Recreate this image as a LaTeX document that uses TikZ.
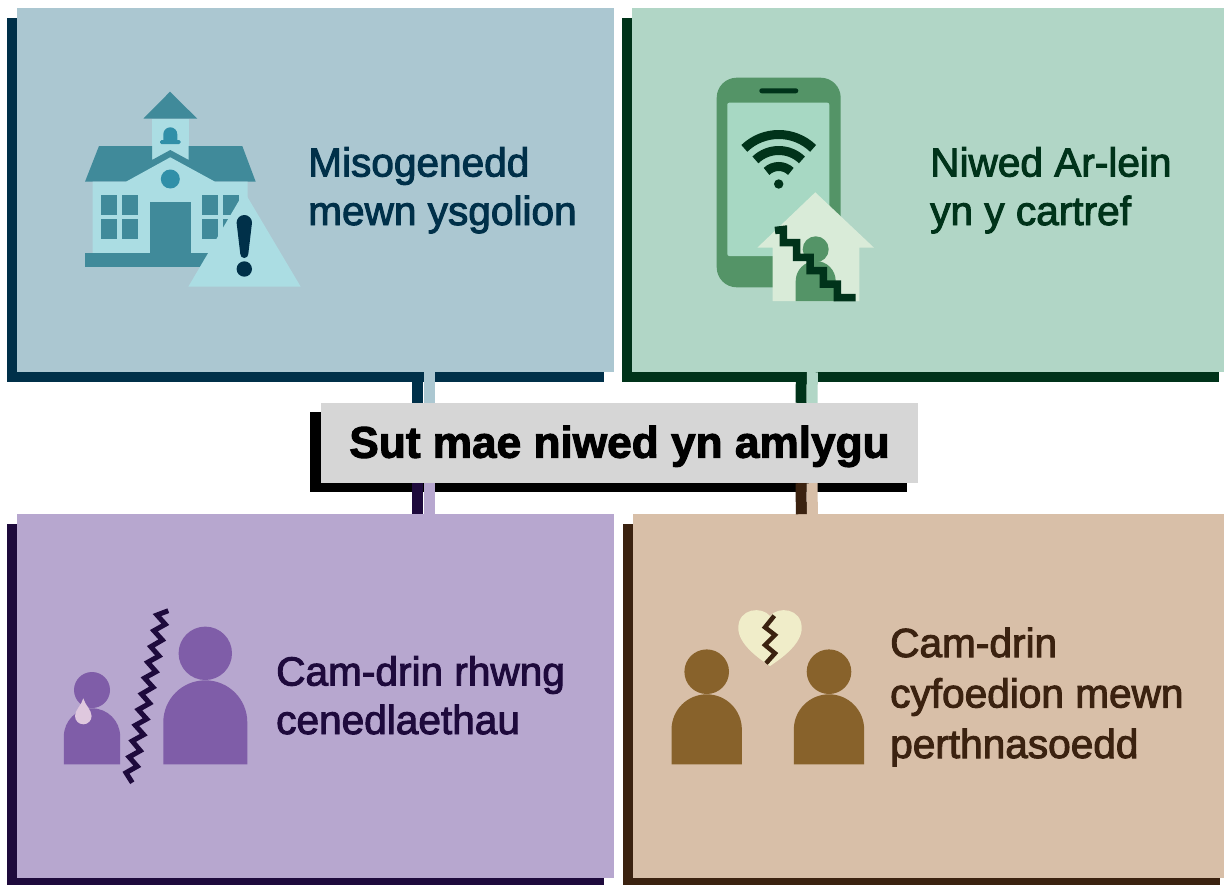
\documentclass[tikz,border=0pt]{standalone}
\usepackage{fontspec}
\setmainfont{Liberation Sans}[BoldFeatures={FakeBold=2.4}]
\newfontfamily\labelfont{Liberation Sans}[FakeBold=2.4]
\usetikzlibrary{positioning, shadows}

\definecolor{schoolbg}{HTML}{ABC7D1}
\definecolor{schooldark}{HTML}{003049}
\definecolor{schoolmid}{HTML}{408A9A}
\definecolor{schoolbell}{HTML}{308FA8}
\definecolor{schoollight}{HTML}{ABDDE3}
\definecolor{onlinebg}{HTML}{B1D6C6}
\definecolor{onlinedark}{HTML}{00331A}
\definecolor{onlinemid}{HTML}{549467}
\definecolor{onlinelight}{HTML}{A7D8C3}
\definecolor{onlinehouse}{HTML}{D9EBD8}
\definecolor{familybg}{HTML}{B7A7CF}
\definecolor{familydark}{HTML}{1E0A3C}
\definecolor{familymid}{HTML}{7F5DA8}
\definecolor{familytear}{HTML}{DFC8DE}
\definecolor{peerbg}{HTML}{D8BFA8}
\definecolor{peerdark}{HTML}{3B2210}
\definecolor{peermid}{HTML}{88622B}
\definecolor{peerheart}{HTML}{F0EDC9}
\definecolor{hubbg}{HTML}{D6D6D6}

\tikzset{
    panelbox/.style 2 args={fill=#1, minimum width=597pt, minimum height=364pt, inner sep=0pt,
        general shadow={shadow xshift=-10pt, shadow yshift=-10pt, fill=#2}},
    stemline/.style={line width=11pt},
    paneltext/.style={anchor=base west, align=left, inner sep=0pt, font=\labelfont\fontsize{40.6}{48.5}\selectfont},
}

\newcommand{\personicon}[7]{
    \fill[#1] (#2,#3) circle (#4pt);
    \fill[#1] ({#2-#5},#7) -- ({#2-#5},{#6+#5}) arc (180:0:#5pt) -- ({#2+#5},#7) -- cycle;
}

\begin{document}
\begin{tikzpicture}[x=1pt, y=-1pt]
    \useasboundingbox (0,0) rectangle (1224,884);

    \node[panelbox={schoolbg}{schooldark}]                        (school)  at (315.5,190)  {};
    \node[panelbox={onlinebg}{onlinedark}, right=18pt of school]  (online)  {};
    \node[panelbox={familybg}{familydark}, below=142pt of school] (family)  {};
    \node[panelbox={peerbg}{peerdark}, right=19pt of family]      (peer)    {};

    \node[fill=hubbg, minimum width=597pt, minimum height=80pt, inner sep=0pt,
          general shadow={shadow xshift=-11pt, shadow yshift=-9pt, fill=black},
          font=\bfseries\fontsize{44.2}{50}\selectfont] (hub) at (619.5,443) {\raisebox{-14.7pt}[0pt][0pt]{Sut mae niwed yn amlygu}};

    \draw[stemline, schooldark]  ([xshift=102pt]school.south)    -- ([xshift=-202pt]hub.north);
    \draw[stemline, schoolbg]    ([xshift=113.5pt]school.south)  -- ([xshift=-190.5pt]hub.north);
    \draw[stemline, onlinedark]  ([xshift=-129.5pt]online.south) -- ([xshift=181.5pt]hub.north);
    \draw[stemline, onlinebg]    ([xshift=-118.5pt]online.south) -- ([xshift=192.5pt]hub.north);
    \draw[stemline, familydark]  ([xshift=-202pt]hub.south)      -- ([xshift=102pt]family.north);
    \draw[stemline, familybg]    ([xshift=-190.5pt]hub.south)    -- ([xshift=113.5pt]family.north);
    \draw[stemline, peerdark]    ([xshift=181.5pt]hub.south)     -- ([xshift=-130.5pt]peer.north);
    \draw[stemline, peerbg]      ([xshift=192.5pt]hub.south)     -- ([xshift=-119.5pt]peer.north);

    \node[paneltext, text=schooldark] (school text) at (308,225) {Misogenedd\\mewn ysgolion};
    \node[paneltext, text=onlinedark] (online text) at (930,225) {Niwed Ar-lein\\yn y cartref};
    \node[paneltext, text=familydark] (family text) at (276,734) {Cam-drin rhwng\\cenedlaethau};
    \node[paneltext, text=peerdark]   (peer text)   at (890,758) {Cam-drin\\[2pt]cyfoedion mewn\\[2pt]perthnasoedd};

    % school
    \fill[schoollight] (152,118.7) rectangle (188.7,165);
    \fill[schoolmid] (170,91.7) -- (143.3,118.7) -- (197.3,118.7) -- cycle;
    \fill[schoolbell] (163.3,140) -- (163.3,134.3) arc (180:0:7pt) -- (177.3,140) -- cycle;
    \fill[schoolbell, rounded corners=1.5pt] (160,140) rectangle (180.7,144);
    \fill[schoolmid] (99,146) -- (152,146) -- (152,160) -- (170.3,150) -- (188.7,160) -- (188.7,146)
        -- (242.3,146) -- (255.7,181.7) -- (85,181.7) -- cycle;
    \fill[schoollight] (92.7,181.7) -- (126,181.7) -- (170.3,157.3) -- (215,181.7) -- (247.7,181.7)
        -- (247.7,253.3) -- (92.7,253.3) -- cycle;
    \fill[schoolbell] (170.3,179) circle (9.5pt);
    \fill[schoolmid] (101.3,195.3) rectangle (117,215);
    \fill[schoolmid] (122.3,195.3) rectangle (138,215);
    \fill[schoolmid] (101.3,219.3) rectangle (117,239.3);
    \fill[schoolmid] (122.3,219.3) rectangle (138,239.3);
    \fill[schoolmid] (201.7,195.3) rectangle (218,215);
    \fill[schoolmid] (223,195.3) rectangle (239,215);
    \fill[schoolmid] (201.7,219.3) rectangle (218,239.3);
    \fill[schoolmid] (223,219.3) rectangle (239,239.3);
    \fill[schoolmid] (150,202) rectangle (191,253.3);
    \fill[schoolmid] (85,253.3) rectangle (215,266.7);
    \fill[schoollight] (244.3,191.7) -- (188.3,286.7) -- (300.7,286.7) -- cycle;
    \fill[schooldark] (236.6,222.7) arc (180:0:7.7pt) -- (248.3,254) arc (0:-180:4pt) -- cycle;
    \fill[schooldark] (244.3,269) circle (7.7pt);

    % phone
    \fill[onlinemid, rounded corners=20pt] (716.7,77.7) rectangle (840.7,287.3);
    \fill[onlinelight, rounded corners=2pt] (727.3,102.7) rectangle (829.3,256);
    \fill[onlinedark, rounded corners=2.5pt] (759.3,88.3) rectangle (798.3,93.3);
    \draw[onlinedark, line width=9pt] ([shift={(778.7,184)}]46:49.5pt) arc (46:134:49.5pt);
    \draw[onlinedark, line width=9pt] ([shift={(778.7,184)}]46:33.5pt) arc (46:134:33.5pt);
    \draw[onlinedark, line width=9pt] ([shift={(778.7,184)}]46:17.5pt) arc (46:134:17.5pt);
    \fill[onlinedark] (778.7,184) circle (4.7pt);
    \fill[onlinehouse] (815.3,192.3) -- (874,247.7) -- (859.3,247.7) -- (859.3,301) -- (772.7,301)
        -- (772.7,247.7) -- (757.3,247.7) -- cycle;
    \personicon{onlinemid}{815.7}{249.3}{13}{20}{261}{301}
    \draw[onlinedark, line width=7.5pt] (775,230.5) -- (783.3,229.5) |- (796.7,242.7) |- (810,257.3)
        |- (823.3,270.7) |- (837.3,284) |- (855.7,297.5);

    % family
    \personicon{familymid}{92}{690}{18}{28.15}{708.3}{764.3}
    \fill[familytear] (83.3,698.3) .. controls (85,705) and (91.6,710) .. (91.6,716) arc (0:-180:8.3pt)
        .. controls (75,710) and (81.6,705) .. (83.3,698.3) -- cycle;
    \personicon{familymid}{205.3}{653.3}{26.7}{42}{680.3}{764.3}
    \draw[familydark, line width=5pt] (168.3,610.7) -- (157,615) -- (165.3,624.3) -- (153.9,630.7)
        -- (162.3,640) -- (150.8,646.7) -- (159,656) -- (147.7,662.3) -- (156,671.7) -- (144.6,678)
        -- (153,687.3) -- (141.5,694) -- (149.7,703.3) -- (138.3,709.7) -- (146.7,719) -- (135.3,725.3)
        -- (143.7,734.7) -- (132.2,741) -- (140.3,750.7) -- (129.1,757) -- (137.3,766.3) -- (126,772.7)
        -- (132.3,782.7);

    % peers
    \personicon{peermid}{706.7}{671.7}{22.3}{35.15}{694.3}{764.3}
    \personicon{peermid}{829}{671.7}{22.3}{35.15}{694.3}{764.3}
    \fill[peerheart] (770,616) .. controls (778,606) and (801.7,608) .. (801.7,628)
        .. controls (801.7,644) and (782,658) .. (770,666)
        .. controls (758,658) and (738.3,644) .. (738.3,628)
        .. controls (738.3,608) and (762,606) .. (770,616) -- cycle;
    \draw[peerdark, line width=4.5pt] (774.3,615.7) -- (765,627.3) -- (775,635) -- (765,645) -- (775,653.3) -- (766,663.3);
\end{tikzpicture}
\end{document}
